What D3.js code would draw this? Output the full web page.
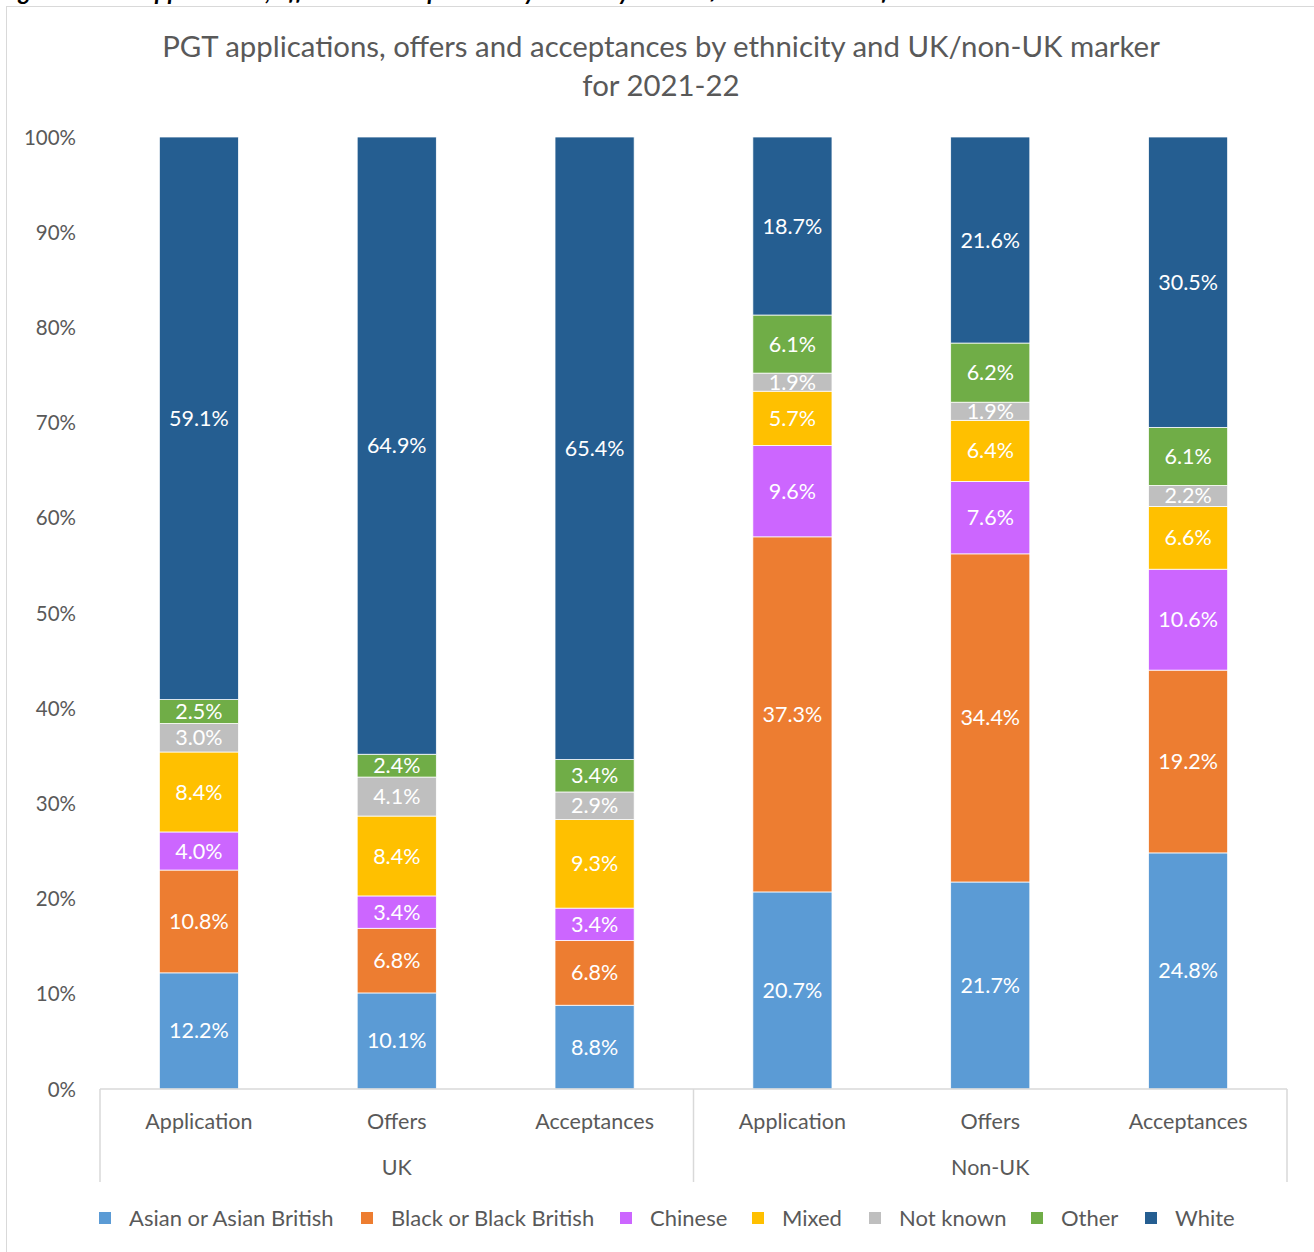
<!DOCTYPE html>
<html>
<head>
<meta charset="utf-8">
<script src="https://cdn.jsdelivr.net/npm/d3@7"></script>
<style>
  body { margin: 0; background: #fff; }
  svg text { font-family: Lato, "Open Sans", sans-serif; }
</style>
</head>
<body>
<div id="chart"></div>
<script>
var groups = ["UK", "Non-UK"];
var stages = ["Application", "Offers", "Acceptances"];
var ethnicities = ["Asian or Asian British", "Black or Black British", "Chinese", "Mixed", "Not known", "Other", "White"];
var colours = ["#5b9bd5", "#ed7d31", "#cc66ff", "#ffc000", "#bfbfbf", "#70ad47", "#255e91"];
var yTicks = [0, 0.1, 0.2, 0.3, 0.4, 0.5, 0.6, 0.7, 0.8, 0.9, 1];

// one row per bar, values in ethnicity order (bottom to top)
var ukApplication    = [12.2, 10.8, 4.0, 8.4, 3.0, 2.5, 59.1];
var ukOffers         = [10.1, 6.8, 3.4, 8.4, 4.1, 2.4, 64.9];
var ukAcceptances    = [8.8, 6.8, 3.4, 9.3, 2.9, 3.4, 65.4];
var nonUkApplication = [20.7, 37.3, 9.6, 5.7, 1.9, 6.1, 18.7];
var nonUkOffers      = [21.7, 34.4, 7.6, 6.4, 1.9, 6.2, 21.6];
var nonUkAcceptances = [24.8, 19.2, 10.6, 6.6, 2.2, 6.1, 30.5];

var rows = [
    { group: "UK", stage: "Application", values: ukApplication },
    { group: "UK", stage: "Offers", values: ukOffers },
    { group: "UK", stage: "Acceptances", values: ukAcceptances },
    { group: "Non-UK", stage: "Application", values: nonUkApplication },
    { group: "Non-UK", stage: "Offers", values: nonUkOffers },
    { group: "Non-UK", stage: "Acceptances", values: nonUkAcceptances }
];

var width = 1314, height = 1252;
var margin = { left: 100, right: 27, top: 137, bottom: 163 };
var labelSize = "21.5px";

var svg = d3.select("#chart").append("svg")
    .attr("width", width)
    .attr("height", height);

// caption of the document, cut off by the screenshot
svg.append("text")
    .attr("x", 0)
    .attr("y", 0)
    .attr("fill", "#000")
    .style("font-size", "24px")
    .style("font-style", "italic")
    .style("font-weight", "bold")
    .text("Figure 5: PGT applications, offers and acceptances by ethnicity and UK/non-UK marker for 2021-22");

svg.append("rect")
    .attr("x", 6.5).attr("y", 6.5)
    .attr("width", width).attr("height", height)
    .attr("fill", "#fff")
    .attr("stroke", "#d9d9d9");

var title = svg.append("text")
    .attr("text-anchor", "middle")
    .attr("fill", "#595959")
    .style("font-size", "29.4px");
title.append("tspan").attr("x", 661).attr("y", 57)
    .text("PGT applications, offers and acceptances by ethnicity and UK/non-UK marker");
title.append("tspan").attr("x", 661).attr("y", 96)
    .text("for 2021-22");

var x = d3.scaleBand()
    .domain(d3.range(rows.length))
    .range([margin.left, width - margin.right])
    .paddingInner(0.6)
    .paddingOuter(0.3);

var y = d3.scaleLinear()
    .domain([0, 1])
    .range([height - margin.bottom, margin.top]);

// 100% stacked: each bar is scaled to its own total
var stack = d3.stack()
    .keys(d3.range(ethnicities.length))
    .value(function(d, k) { return d.values[k]; })
    .offset(d3.stackOffsetExpand);
var series = stack(rows);

// y axis labels
var yAxis = svg.append("g")
    .attr("transform", "translate(" + (margin.left - 21) + ",0)")
    .call(d3.axisLeft(y).tickValues(yTicks).tickSize(0).tickFormat(d3.format(".0%")));
yAxis.select(".domain").remove();
yAxis.selectAll("text")
    .attr("fill", "#595959")
    .style("font-size", "20.5px")
    .attr("dy", "0.35em");

// bars
var layer = svg.append("g").selectAll("g")
    .data(series)
    .join("g")
    .attr("fill", function(d, i) { return colours[i]; });

layer.selectAll("rect")
    .data(function(d) { return d; })
    .join("rect")
    .attr("x", function(d, i) { return x(i); })
    .attr("width", x.bandwidth())
    .attr("y", function(d) { return y(d[1]); })
    .attr("height", function(d) { return y(d[0]) - y(d[1]); })
    .attr("stroke", "#fff")
    .attr("stroke-width", 0.75);

layer.selectAll("text")
    .data(function(d) { return d.map(function(p) { return { p: p, key: d.key }; }); })
    .join("text")
    .attr("x", function(d, i) { return x(i) + x.bandwidth() / 2; })
    .attr("y", function(d) { return y((d.p[0] + d.p[1]) / 2); })
    .attr("dy", "0.35em")
    .attr("text-anchor", "middle")
    .attr("fill", "#fff")
    .style("font-size", labelSize)
    .text(function(d) { return d.p.data.values[d.key].toFixed(1) + "%"; });

// multi-level category axis
var axisY = y(0);
var step = x.step();
var gx = svg.append("g").attr("stroke", "#d9d9d9").attr("stroke-width", 1.5);
gx.append("line")
    .attr("x1", margin.left).attr("x2", width - margin.right)
    .attr("y1", axisY).attr("y2", axisY);
var groupEdges = [0, 3, 6].map(function(i) { return margin.left + i * step; });
gx.selectAll(".sep")
    .data(groupEdges)
    .join("line")
    .attr("class", "sep")
    .attr("x1", function(d) { return d; }).attr("x2", function(d) { return d; })
    .attr("y1", axisY).attr("y2", axisY + 93);

svg.append("g").selectAll("text")
    .data(rows)
    .join("text")
    .attr("x", function(d, i) { return x(i) + x.bandwidth() / 2; })
    .attr("y", axisY + 32)
    .attr("dy", "0.35em")
    .attr("text-anchor", "middle")
    .attr("fill", "#595959")
    .style("font-size", labelSize)
    .text(function(d) { return d.stage; });

svg.append("g").selectAll("text")
    .data(groups)
    .join("text")
    .attr("x", function(d, i) { return (groupEdges[i] + groupEdges[i + 1]) / 2; })
    .attr("y", axisY + 78)
    .attr("dy", "0.35em")
    .attr("text-anchor", "middle")
    .attr("fill", "#595959")
    .style("font-size", labelSize)
    .text(function(d) { return d; });

// legend
var legendX = [99, 361, 620, 752, 869, 1031, 1145];
var legend = svg.append("g").selectAll("g")
    .data(ethnicities)
    .join("g")
    .attr("transform", function(d, i) { return "translate(" + legendX[i] + ",1218)"; });
legend.append("rect")
    .attr("x", 0).attr("y", -6)
    .attr("width", 12).attr("height", 12)
    .attr("fill", function(d, i) { return colours[i]; });
legend.append("text")
    .attr("x", 30)
    .attr("dy", "0.35em")
    .attr("fill", "#595959")
    .style("font-size", "22px")
    .text(function(d) { return d; });
</script>
</body>
</html>
